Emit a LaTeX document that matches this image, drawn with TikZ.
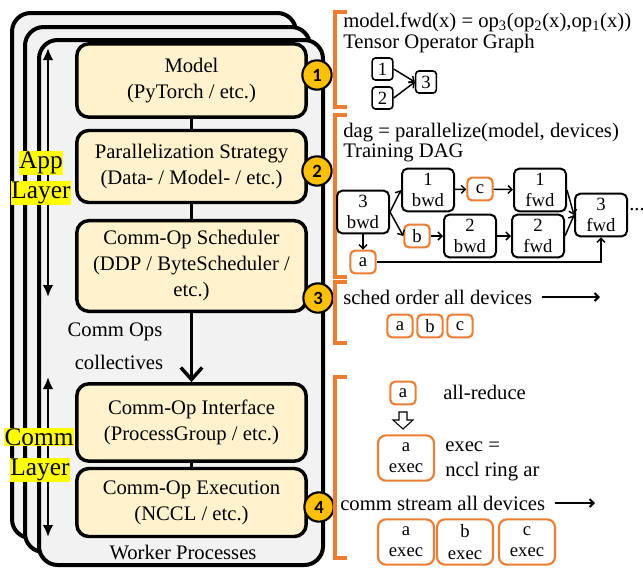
\documentclass[tikz,border=0pt]{standalone}
\usepackage{fontspec}
\setmainfont{Liberation Serif}
\newfontfamily\numfont{Carlito}
\usetikzlibrary{arrows.meta}
\definecolor{cream}{HTML}{FFF2CC}
\definecolor{gold}{HTML}{FFC000}
\definecolor{brk}{HTML}{ED7D31}
\definecolor{workerbg}{HTML}{F2F2F2}
\definecolor{hilite}{HTML}{FFFF00}
\tikzset{
  worker/.style={draw,line width=3pt,rounded corners=14pt,fill=workerbg},
  layerbox/.style={draw,line width=2.6pt,rounded corners=9pt,fill=cream,align=center,
    minimum width=172pt,inner sep=0pt,font=\fontsize{15.5}{19.5}\selectfont},
  stepnum/.style={circle,draw,line width=1.6pt,fill=gold,minimum size=22pt,inner sep=0pt,
    font=\numfont\bfseries\fontsize{14}{14}\selectfont},
  layername/.style={fill=hilite,inner sep=0.5pt,font=\fontsize{19}{19}\selectfont},
  plain/.style={inner sep=0pt,font=\fontsize{15.5}{16.5}\selectfont},
  note/.style={plain,anchor=west},
  bracket/.style={draw=brk,line width=2.3pt},
  tensorbox/.style={draw,line width=1.2pt,rounded corners=2.5pt,minimum width=15.5pt,
    minimum height=16.5pt,inner sep=0pt,font=\fontsize{14}{14}\selectfont},
  opbox/.style={draw,line width=1.5pt,rounded corners=4pt,align=center,minimum width=39pt,
    minimum height=32pt,inner sep=0pt,font=\fontsize{14}{16}\selectfont},
  commbox/.style={draw=brk,line width=1.6pt,rounded corners=3.5pt,minimum width=19pt,
    minimum height=17pt,inner sep=0pt,font=\fontsize{14}{16}\selectfont},
  execbox/.style={commbox,align=center,minimum width=42pt,minimum height=34pt,rounded corners=6pt},
  dagedge/.style={->,line width=1.1pt},
}
\begin{document}
\begin{tikzpicture}[x=0.75pt,y=-0.75pt,>={Straight Barb[length=3pt,width=6pt]}]
\useasboundingbox (0,0) rectangle (643,569);
% worker processes, stacked
\draw[worker] (12,13) rectangle (296,538);
\draw[worker] (25,27) rectangle (310,552);
\draw[worker] (39,40) rectangle (323,565);
\node[plain] (wp) at (183,552) {Worker Processes};

% layers
\node[layerbox,minimum height=55pt] (model) at (191.5,80.5) {Model\\(PyTorch / etc.)};
\node[layerbox,minimum height=54pt] (para) at (191.5,166.5) {Parallelization Strategy\\(Data- / Model- / etc.)};
\node[layerbox,minimum height=68pt] (sched) at (191.5,266) {Comm-Op Scheduler\\(DDP / ByteScheduler /\\etc.)};
\node[layerbox,minimum height=58pt] (iface) at (191.5,422.5) {Comm-Op Interface\\(ProcessGroup / etc.)};
\node[layerbox,minimum height=51pt] (exec) at (191.5,502.5) {Comm-Op Execution\\(NCCL / etc.)};
\draw[line width=2.6pt] (model) -- (para);
\draw[line width=2.6pt] (para) -- (sched);
\draw[line width=2.6pt] (iface) -- (exec);
\draw[line width=2.6pt,-{Straight Barb[length=9pt,width=16pt]}] (sched) -- (iface);
\node[plain] (ops) at (115,332) {Comm Ops};
\node[plain] (coll) at (119,362) {collectives};

% layer arrows
\coordinate (apptop) at (48,48);
\coordinate (appbot) at (48,297);
\coordinate (commtop) at (48,377);
\coordinate (commbot) at (48,537);
\draw[line width=2.2pt,{Latex[length=9pt,width=8pt]}-{Latex[length=9pt,width=8pt]}] (apptop) -- (appbot);
\draw[line width=2.2pt,{Latex[length=9pt,width=8pt]}-{Latex[length=9pt,width=8pt]}] (commtop) -- (commbot);
\node[layername] (app1) at (41,163) {App};
\node[layername] (app2) at (41,193) {Layer};
\node[layername] (comm1) at (39,437) {Comm};
\node[layername] (comm2) at (40,470) {Layer};

% step numbers
\node[stepnum] (s1) at (317,75) {1};
\node[stepnum] (s2) at (317,171) {2};
\node[stepnum] (s3) at (318,298) {3};
\node[stepnum] (s4) at (319,507) {4};

% brackets
\draw[bracket] (347,12) -- (335,12) -- (335,107) -- (347,107);
\draw[bracket] (347,115) -- (335,115) -- (335,277) -- (347,277);
\draw[bracket] (347,282) -- (335,282) -- (335,343) -- (347,343);
\draw[bracket] (347,377) -- (335,377) -- (335,558) -- (347,558);

% 1: tensor operator graph
\node[note] (fwd) at (343,22) {model.fwd(x) = op\textsubscript{3}(op\textsubscript{2}(x),op\textsubscript{1}(x))};
\node[note] (tog) at (343,44) {Tensor Operator Graph};
\node[tensorbox] (t1) at (382.5,69) {1};
\node[tensorbox] (t2) at (382.5,98) {2};
\node[tensorbox] (t3) at (426,82) {3};
\draw[dagedge] (t1.east) -- (t3.west);
\draw[dagedge] (t2.east) -- (t3.west);

% 2: training dag
\node[note] (dag) at (343,133) {dag = parallelize(model, devices)};
\node[note] (tdag) at (343,153) {Training DAG};
\node[opbox] (bwd3) at (363,212) {3\\bwd};
\node[opbox] (bwd1) at (428,190) {1\\bwd};
\node[commbox] (c) at (480,189) {c};
\node[opbox] (fwd1) at (540,190) {1\\fwd};
\node[commbox] (b) at (417,236) {b};
\node[opbox] (bwd2) at (470,236) {2\\bwd};
\node[opbox] (fwd2) at (538,236) {2\\fwd};
\node[opbox] (fwd3) at (601,215) {3\\fwd};
\node[commbox] (a) at (363,262) {a};
\node[note] (more) at (629,210) {...};
\draw[dagedge] (bwd3.east) -- (bwd1.west);
\draw[dagedge] (bwd3.east) -- (b.west);
\draw[dagedge] (bwd3) -- (a);
\draw[dagedge] (bwd1) -- (c);
\draw[dagedge] (c) -- (fwd1);
\draw[dagedge] (b) -- (bwd2);
\draw[dagedge] (bwd2) -- (fwd2);
\draw[dagedge] (fwd1.east) -- (fwd3.west);
\draw[dagedge] (fwd2.east) -- (fwd3.west);
\draw[dagedge] (a) -| (fwd3);

% 3: schedule order
\node[note] (order) at (343,297) {sched order all devices};
\coordinate (orderend) at (600,297);
\draw[->,line width=1.5pt] ([xshift=7.5pt]order.east) -- (orderend);
\node[commbox] (oa) at (400,326) {a};
\node[commbox] (ob) at (430,326) {b};
\node[commbox] (oc) at (460,326) {c};

% 4: execution
\node[commbox] (ra) at (403,393) {a};
\node[note] (ar) at (443,392) {all-reduce};
\node[execbox] (ea) at (406,458) {a\\exec};
\draw[line width=0.8pt,fill=white] (399,412) -- (407,412) -- (407,420) -- (413,420)
  -- (403,429) -- (393,420) -- (399,420) -- cycle;
\node[note] (eq) at (445,447) {exec =};
\node[note] (ring) at (445,472) {nccl ring ar};
\node[note] (stream) at (340,503) {comm stream all devices};
\coordinate (streamend) at (595,503);
\draw[->,line width=1.5pt] ([xshift=7.5pt]stream.east) -- (streamend);
\node[execbox] (xa) at (406,542) {a\\exec};
\node[execbox] (xb) at (465,542) {b\\exec};
\node[execbox] (xc) at (527,542) {c\\exec};
\end{tikzpicture}
\end{document}
